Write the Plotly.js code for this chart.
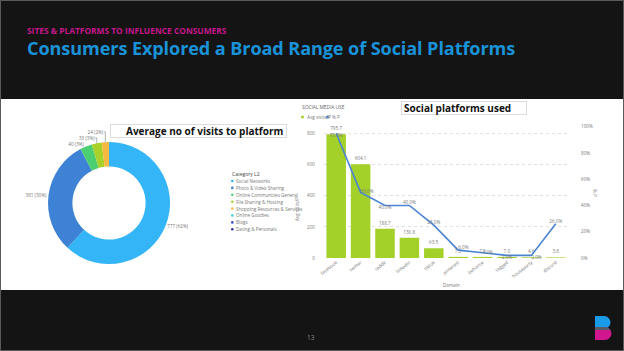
<!DOCTYPE html>
<html><head><meta charset="utf-8">
<script src="https://cdn.plot.ly/plotly-3.0.1.min.js"></script>
<style>
html,body{margin:0;padding:0;background:#141414;}
#slide{position:relative;width:624px;height:351px;background:#141414;overflow:hidden;font-family:'Open Sans',Lato,sans-serif;box-sizing:border-box;border:1px solid #5a5a5a;}
#sub{position:absolute;left:26px;top:25px;font-size:8.4px;line-height:10px;font-weight:700;color:#c4168c;white-space:nowrap;}
#title{position:absolute;left:26px;top:36px;font-size:18.1px;line-height:22px;font-weight:700;color:#1a92d8;white-space:nowrap;letter-spacing:-0.1px;}
#panel{position:absolute;left:0;top:98px;width:624px;height:191px;background:#fff;}
#chart{position:absolute;left:0;top:0;width:624px;height:191px;}
.box{position:absolute;background:#fff;border:1px solid #dcdcdc;font-weight:700;color:#111;font-size:10px;line-height:12px;white-space:nowrap;box-sizing:border-box;font-family:'Open Sans',sans-serif;}
#pg{position:absolute;left:306px;top:332px;font-size:6.5px;color:#888;}
#logo{position:absolute;left:590px;top:312px;}
</style></head>
<body>
<div id="slide">
  <div id="sub">SITES &amp; PLATFORMS TO INFLUENCE CONSUMERS</div>
  <div id="title">Consumers Explored a Broad Range of Social Platforms</div>
  <div id="panel">
    <div id="chart"></div>
    <div class="box" style="left:109px;top:25px;width:177px;height:14px;padding-left:15px;">Average no of visits to platform</div>
    <div class="box" style="left:400px;top:2px;width:126px;height:14px;padding-left:2px;">Social platforms used</div>
  </div>
  <div id="pg">13</div>
  <svg id="logo" width="26" height="30" viewBox="590 312 26 30">
    <defs><clipPath id="cb"><path d="M594 326 H604 A6.5 6.5 0 0 1 604 339 H594 Z"/></clipPath></defs>
    <path d="M594 315 H603 A6.5 6.5 0 0 1 603 328 H594 Z" fill="#1a9be8"/>
    <path d="M594 326 H604 A6.5 6.5 0 0 1 604 339 H594 Z" fill="#d0168e"/>
    <rect x="594" y="326" width="20" height="3" fill="#5b5b66" clip-path="url(#cb)"/>
  </svg>
</div>
<script>
// ---- Donut data ----
const pieCategories = ["Social Networks","Photo & Video Sharing","Online Communities General","File Sharing & Hosting","Shopping Resources & Services","Online Goodies","Blogs","Dating & Personals"];
const pieValues = [777, 381, 40, 33, 24, 0, 0, 0];
const pieColors = ["#33b5f7","#3d82d4","#4ccf72","#a8d12a","#f5b841","#2fd0d0","#3a4fd9","#2f35a0"];

// ---- Bar / line data ----
const domains = ["facebook","twitter","reddit","linkedin","tiktok","pinterest","behance","tagged","houseparty","discord"];
const avgVisits = [795.7, 604.1, 188.7, 130.8, 63.5, 7.3, 7.0, 7.0, 4.6, 3.8];
const pctP = [0.95, 0.50, 0.40, 0.40, 0.25, 0.06, 0.04, 0.02, 0.02, 0.26];
const pctLabelPos = ["bottom center","middle right","bottom center","top center","top center","top right","middle right","bottom center","bottom right","top center"];

const W = 624, H = 191;
const px = x => x / W;
const py = y => 1 - y / H;

const total = pieValues.reduce((a, b) => a + b, 0);
const pieText = pieValues.map(v => v > 0 ? v + " (" + Math.round(v / total * 100) + "%)" : "");

const tiny = {family: "Open Sans, sans-serif", size: 4.6, color: "#777"};

const traces = [
  {
    type: "pie", labels: pieCategories, values: pieValues, marker: {colors: pieColors},
    hole: 0.6, sort: false, direction: "clockwise", rotation: 0,
    text: pieText, textinfo: "text", textposition: "outside",
    outsidetextfont: tiny, showlegend: false,
    domain: {x: [px(47), px(169)], y: [py(165), py(43)]}
  },
  {
    type: "bar", x: domains, y: avgVisits, name: "Avg visits/P",
    marker: {color: "#a4d02a"}, text: avgVisits.map(v => v.toFixed(1)),
    textposition: "outside", textfont: tiny, cliponaxis: false,
    xaxis: "x", yaxis: "y", showlegend: false
  },
  {
    type: "scatter", mode: "lines+text", x: domains, y: pctP, name: "% P",
    line: {color: "#4a84d4", width: 1.6},
    text: pctP.map(v => (v * 100).toFixed(1) + "%"), textposition: pctLabelPos,
    textfont: tiny, cliponaxis: false,
    xaxis: "x", yaxis: "y2", showlegend: false
  }
];

const annotations = [];
const shapes = [];
// pie legend (manual, compact)
annotations.push({xref: "paper", yref: "paper", x: px(229), y: py(75), xanchor: "left", yanchor: "middle",
  text: "Category L2", showarrow: false, font: {family: "Open Sans, sans-serif", size: 5, color: "#444"}});
pieCategories.forEach((c, i) => {
  const yy = 82 + i * 6.9;
  shapes.push({type: "circle", xref: "paper", yref: "paper", x0: px(230), x1: px(232.6), y0: py(yy + 1.3), y1: py(yy - 1.3),
    fillcolor: pieColors[i], line: {width: 0}});
  annotations.push({xref: "paper", yref: "paper", x: px(233), y: py(yy), xanchor: "left", yanchor: "middle",
    text: c, showarrow: false, font: tiny});
});
// chart title and legend
annotations.push({xref: "paper", yref: "paper", x: px(299), y: py(8), xanchor: "left", yanchor: "middle",
  text: "SOCIAL MEDIA USE", showarrow: false, font: {family: "Open Sans, sans-serif", size: 4.8, color: "#666"}});
[["Avg visits/P", "#a4d02a", 300], ["% P", "#4a84d4", 325]].forEach(([t, col, x]) => {
  shapes.push({type: "circle", xref: "paper", yref: "paper", x0: px(x), x1: px(x + 3), y0: py(19.5), y1: py(16.5),
    fillcolor: col, line: {width: 0}});
  annotations.push({xref: "paper", yref: "paper", x: px(x + 3.5), y: py(18), xanchor: "left", yanchor: "middle",
    text: t, showarrow: false, font: tiny});
});
// axis titles
annotations.push({xref: "paper", yref: "paper", x: px(296), y: py(110), textangle: -90, xanchor: "center", yanchor: "middle",
  text: "Avg visits/P", showarrow: false, font: tiny});
annotations.push({xref: "paper", yref: "paper", x: px(594), y: py(94), textangle: 90, xanchor: "center", yanchor: "middle",
  text: "% P", showarrow: false, font: tiny});
annotations.push({xref: "paper", yref: "paper", x: px(450), y: py(186), xanchor: "center", yanchor: "middle",
  text: "Domain", showarrow: false, font: tiny});

const layout = {
  width: W, height: H, margin: {l: 0, r: 0, t: 0, b: 0},
  paper_bgcolor: "rgba(0,0,0,0)", plot_bgcolor: "rgba(0,0,0,0)",
  font: {family: "Open Sans, sans-serif", size: 5, color: "#777"},
  bargap: 0.2,
  xaxis: {domain: [px(323), px(567)], tickangle: -38, tickfont: tiny, showgrid: false, zeroline: false,
    showline: false, ticks: ""},
  yaxis: {domain: [py(159), py(27.7)], range: [0, 845], tickvals: [0, 200, 400, 600, 800], tickfont: tiny,
    showgrid: true, gridcolor: "#d8d8d8", griddash: "dot", gridwidth: 0.8, zeroline: false, ticklabelstandoff: 8},
  yaxis2: {overlaying: "y", side: "right", range: [0, 1], dtick: 0.2, tickformat: ".0%", tickfont: tiny,
    showgrid: false, zeroline: false, ticklabelstandoff: 12},
  annotations: annotations, shapes: shapes
};

Plotly.newPlot("chart", traces, layout, {displayModeBar: false, staticPlot: true});
</script>
</body></html>
